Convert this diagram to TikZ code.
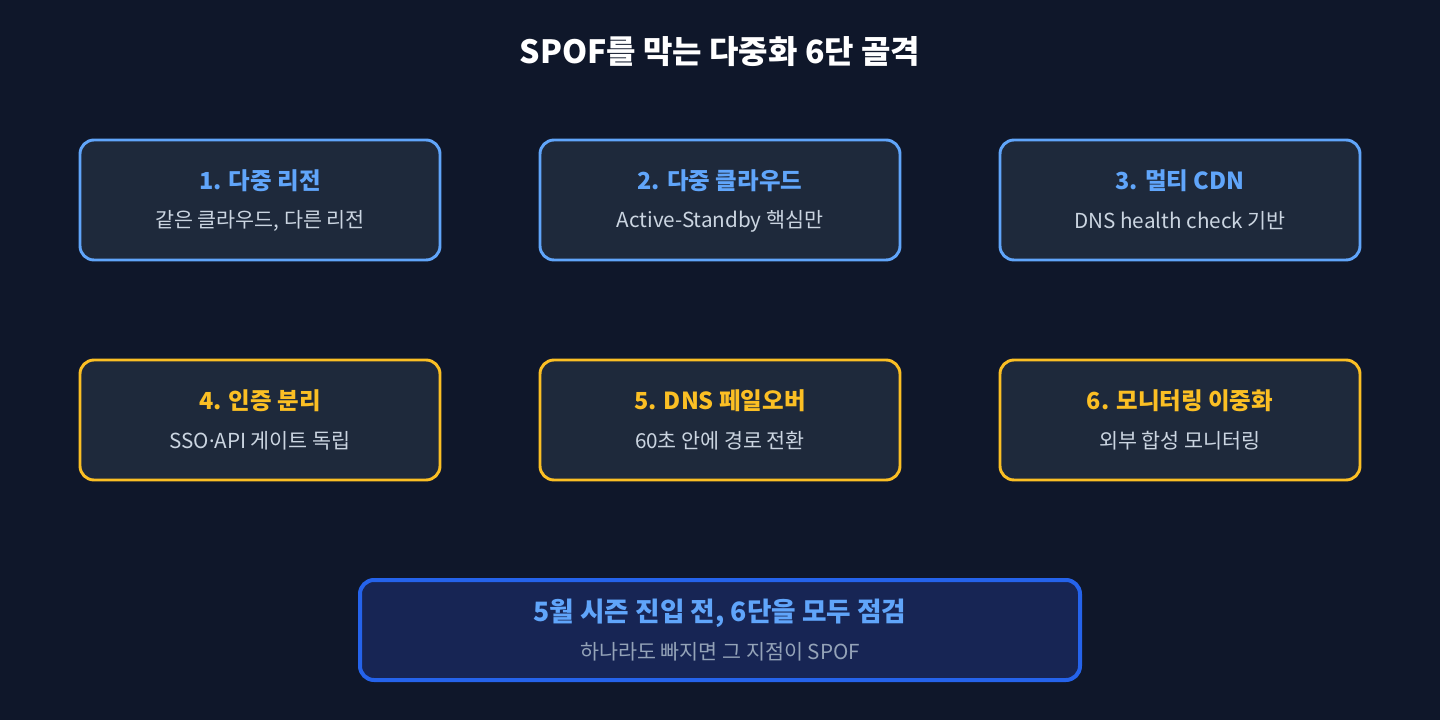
\documentclass[tikz,border=0pt]{standalone}
\usepackage{fontspec}
\setmainfont{Noto Sans CJK KR}
\newfontfamily\latinfont{Noto Sans}
\definecolor{bgdark}{HTML}{0F172A}
\definecolor{boxfill}{HTML}{1E293B}
\definecolor{blueline}{HTML}{60A5FA}
\definecolor{yellowline}{HTML}{FBBF24}
\definecolor{subtext}{HTML}{CBD5E1}
\definecolor{notefill}{HTML}{172554}
\definecolor{noteline}{HTML}{2563EB}
\definecolor{notetext}{HTML}{94A3B8}

\begin{document}
\begin{tikzpicture}[x=0.75pt,y=-0.75pt,
		card/.style={draw,line width=2.2pt,fill=boxfill,rounded corners=10.5pt,minimum width=270pt,minimum height=90pt},
		bluecard/.style={card,draw=blueline},
		yellowcard/.style={card,draw=yellowline},
		ttl/.style={font=\fontsize{17.6}{21}\selectfont\bfseries},
		sub/.style={font=\fontsize{15.5}{18}\selectfont,text=subtext}]
	\fill[bgdark] (0,0) rectangle (1440,720);
	\useasboundingbox (0,0) rectangle (1440,720);
	\node[font=\fontsize{24}{28}\selectfont\bfseries,text=white] (title) at (720,52) {SPOF를 막는 다중화 6단 골격};

	% first row
	\node[bluecard] (r1) at (260,200) {};
	\node[ttl,text=blueline] (r1t) at (260,181) {1. 다중 리전};
	\node[sub] (r1s) at (260,221) {같은 클라우드, 다른 리전};
	\node[bluecard] (r2) at (720,200) {};
	\node[ttl,text=blueline] (r2t) at (720,181) {2. 다중 클라우드};
	\node[sub] (r2s) at (720,221) {Active-Standby 핵심만};
	\node[bluecard] (r3) at (1180,200) {};
	\node[ttl,text=blueline] (r3t) at (1180,181) {3. 멀티 CDN};
	\node[sub] (r3s) at (1180,221) {DNS health check 기반};

	% second row
	\node[yellowcard] (r4) at (260,420) {};
	\node[ttl,text=yellowline] (r4t) at (260,401) {4. 인증 분리};
	\node[sub] (r4s) at (260,441) {SSO{\latinfont ·}API 게이트 독립};
	\node[yellowcard] (r5) at (720,420) {};
	\node[ttl,text=yellowline] (r5t) at (720,401) {5. DNS 페일오버};
	\node[sub] (r5s) at (720,441) {60초 안에 경로 전환};
	\node[yellowcard] (r6) at (1180,420) {};
	\node[ttl,text=yellowline] (r6t) at (1180,401) {6. 모니터링 이중화};
	\node[sub] (r6s) at (1180,441) {외부 합성 모니터링};

	% bottom note
	\node[card,draw=noteline,fill=notefill,line width=3pt,minimum width=540pt,minimum height=75pt] (note) at (720,630) {};
	\node[font=\fontsize{20}{24}\selectfont\bfseries,text=blueline] (notet) at (720,613) {5월 시즌 진입 전, 6단을 모두 점검};
	\node[sub,text=notetext] (notes) at (720,652) {하나라도 빠지면 그 지점이 SPOF};
\end{tikzpicture}
\end{document}
